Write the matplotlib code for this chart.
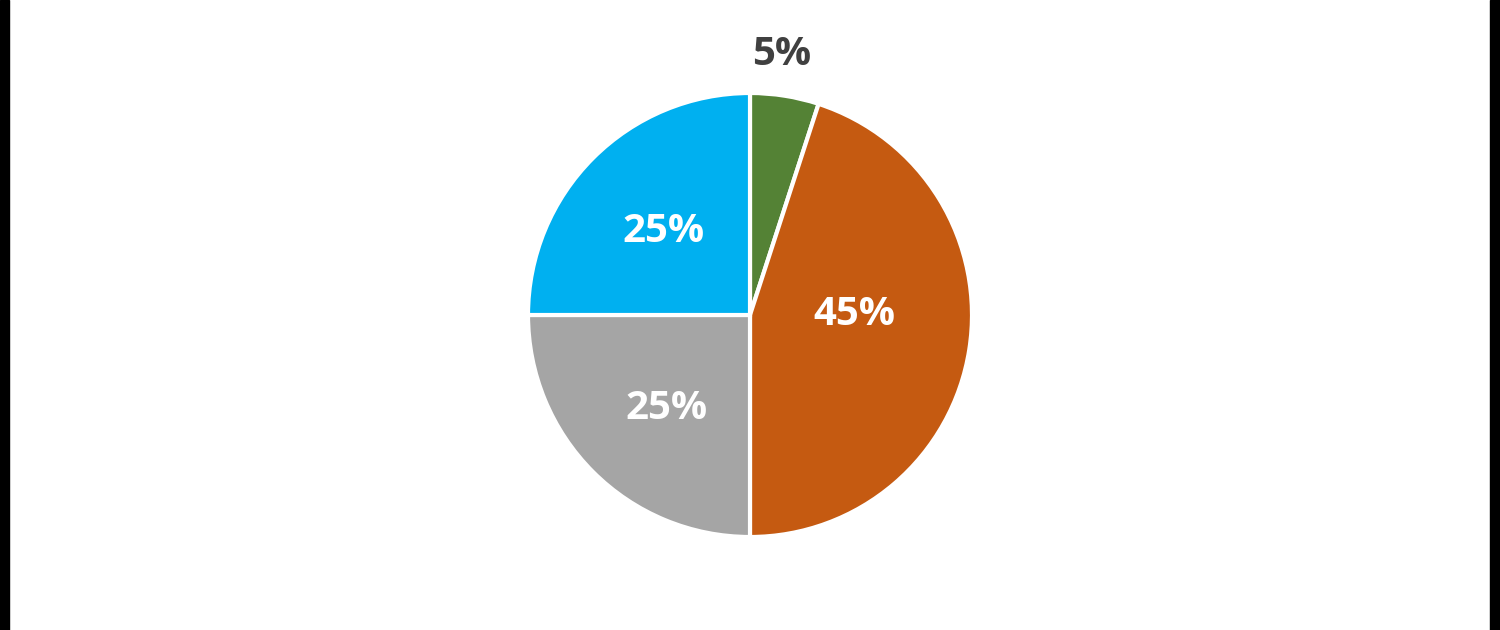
import numpy as np
import matplotlib.pyplot as plt
from matplotlib.patches import Rectangle

shares = [5, 45, 25, 25]
labels = ["5%", "45%", "25%", "25%"]
colors = ["#548235", "#C55A11", "#A5A5A5", "#00B0F0"]
label_colors = ["#404040", "white", "white", "white"]
label_dist = [1.18, 0.47, 0.565, 0.54]
label_shift = [2, 9, 3, 1]  # degrees, nudges labels the way the original sits

fig = plt.figure(figsize=(15, 6.3), dpi=100)
# black side bars
fig.patches.append(Rectangle((0, 0), 9 / 1500, 1, transform=fig.transFigure, color="black"))
fig.patches.append(Rectangle((1490 / 1500, 0), 10 / 1500, 1, transform=fig.transFigure, color="black"))

ax = fig.add_axes([(750 - 222) / 1500, (315 - 222) / 630, 444 / 1500, 444 / 630])
wedges, _ = ax.pie(shares, colors=colors, startangle=90, counterclock=False,
                   wedgeprops=dict(edgecolor="white", linewidth=3))
ax.set_xlim(-1, 1)
ax.set_ylim(-1, 1)
ax.set_aspect("equal")
ax.axis("off")

for w, lab, c, d, s in zip(wedges, labels, label_colors, label_dist, label_shift):
    ang = np.deg2rad((w.theta1 + w.theta2) / 2 + s)
    ax.text(d * np.cos(ang), d * np.sin(ang), lab, ha="center", va="center",
            color=c, fontsize=29, fontweight="bold", family="Open Sans")

fig.savefig("out.png", dpi=100, facecolor="white")
